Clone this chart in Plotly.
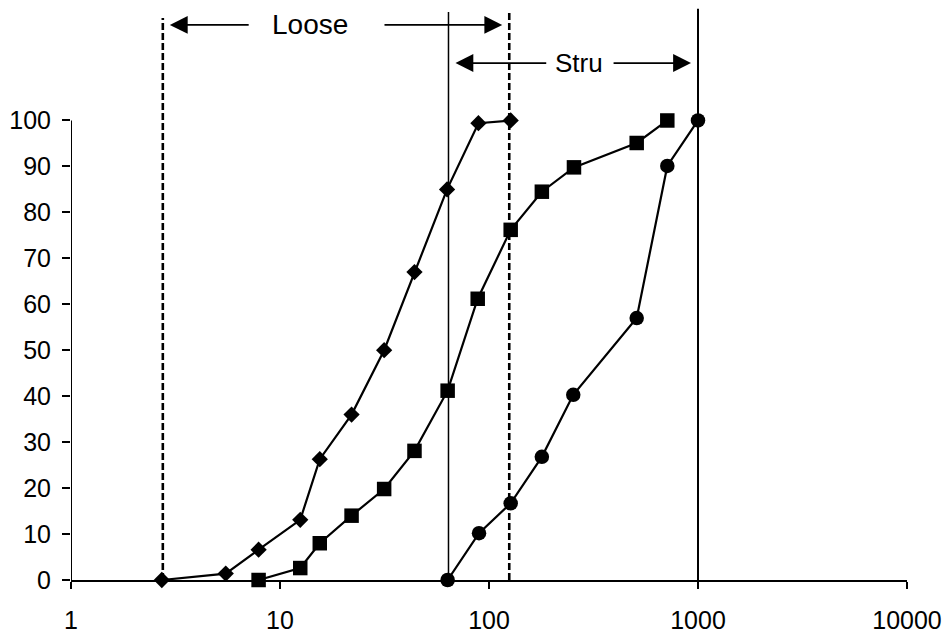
import math
import plotly.graph_objects as go

# ---- data ----
diam_x = [2.72, 5.5, 7.9, 12.5, 15.5, 22, 31.5, 44, 63, 89, 127]
diam_y = [0, 1.4, 6.6, 13.1, 26.3, 36, 50, 67, 85, 99.4, 100]

sq_x = [7.9, 12.5, 15.5, 22, 31.5, 44, 63.4, 88.3, 127, 179, 255, 509, 713]
sq_y = [0, 2.6, 8.0, 14.0, 19.8, 28.1, 41.2, 61.2, 76.2, 84.5, 89.8, 95.1, 100]

circ_x = [63.4, 89.6, 127, 179, 253, 509, 713, 1000]
circ_y = [0, 10.2, 16.7, 26.8, 40.3, 57.0, 90.1, 100]

# boundary lines: Loose range (dashed) and Stru range (solid)
loose_bounds = [2.75, 125]
stru_bounds = [64, 1000]
loose_top = [122.3, 123.6]
stru_top = [123.6, 124.3]

x_ticks = [1, 10, 100, 1000, 10000]
y_ticks = list(range(0, 101, 10))

loose_label = "Loose"
stru_label = "Stru"
loose_level = 120.8
stru_level = 112.5
loose_text_x = 13.9
stru_text_x = 270
loose_tails = [7.2, 31.1]
stru_tails = [191, 388]

FONT = "Liberation Sans, Arial, sans-serif"

fig = go.Figure()

series = [(diam_x, diam_y, "diamond", 12.5), (sq_x, sq_y, "square", 14.5), (circ_x, circ_y, "circle", 14.5)]
for xs, ys, sym, sz in series:
    fig.add_trace(go.Scatter(x=xs, y=ys, mode="lines+markers",
                             line=dict(color="black", width=2.2),
                             marker=dict(symbol=sym, size=sz, color="black"),
                             cliponaxis=False, showlegend=False))

for xv, top in zip(loose_bounds, loose_top):
    fig.add_trace(go.Scatter(x=[xv, xv], y=[0, top], mode="lines",
                             line=dict(color="black", width=2.6, dash="7px,3px"),
                             cliponaxis=False, showlegend=False))
for i, (xv, top) in enumerate(zip(stru_bounds, stru_top)):
    fig.add_trace(go.Scatter(x=[xv, xv], y=[0, top], mode="lines",
                             line=dict(color="black", width=1.5 if i == 0 else 2),
                             cliponaxis=False, showlegend=False))

# y axis line from 0 to 100 only
fig.add_trace(go.Scatter(x=[x_ticks[0], x_ticks[0]], y=[y_ticks[0], y_ticks[-1]], mode="lines",
                         line=dict(color="black", width=2), cliponaxis=False, showlegend=False))

annotations = []
annotations.append(dict(x=math.log10(loose_text_x), y=loose_level, xref="x", yref="y",
                        text=loose_label, showarrow=False, font=dict(size=28, family=FONT, color="black")))
annotations.append(dict(x=math.log10(stru_text_x), y=stru_level, xref="x", yref="y",
                        text=stru_label, showarrow=False, font=dict(size=26, family=FONT, color="black")))


def arrow(tip, tail, yv):
    return dict(x=math.log10(tip), y=yv, ax=math.log10(tail), ay=yv, xref="x", yref="y",
                axref="x", ayref="y", text="", showarrow=True, arrowhead=2,
                arrowsize=2.1, arrowwidth=1.7, arrowcolor="black", standoff=7)


annotations.append(arrow(loose_bounds[0], loose_tails[0], loose_level))
annotations.append(arrow(loose_bounds[1], loose_tails[1], loose_level))
annotations.append(arrow(stru_bounds[0], stru_tails[0], stru_level))
annotations.append(arrow(stru_bounds[1], stru_tails[1], stru_level))

fig.update_layout(
    width=952, height=639,
    margin=dict(l=71, r=45, t=1, b=59),
    paper_bgcolor="white", plot_bgcolor="white",
    font=dict(family=FONT, size=25, color="black"),
    annotations=annotations,
    xaxis=dict(type="log", range=[0, 4], tickvals=x_ticks, ticktext=[str(v) for v in x_ticks],
               showgrid=False, zeroline=False, showline=True, linecolor="black", linewidth=2,
               ticks="outside", ticklen=7, tickwidth=2, tickcolor="black",
               ticklabelstandoff=10, tickfont=dict(size=25, family=FONT)),
    yaxis=dict(range=[0, 126], tickvals=y_ticks, showgrid=False, zeroline=False, showline=False,
               ticks="outside", ticklen=8, tickwidth=2, tickcolor="black",
               ticklabelstandoff=6, tickfont=dict(size=25, family=FONT)),
)

fig.write_html("out.html")
